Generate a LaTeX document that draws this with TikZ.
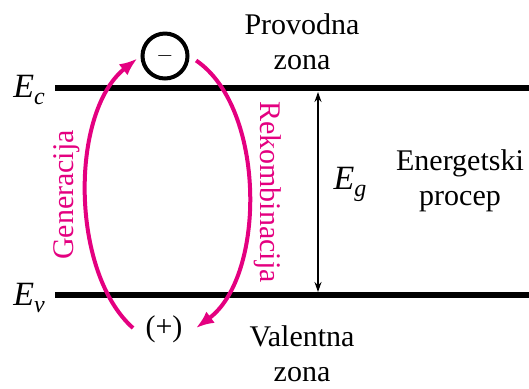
\documentclass[tikz,border=0pt]{standalone}
\usepackage{fontspec}
\setmainfont{Liberation Serif}
\usetikzlibrary{arrows.meta}
\newcommand{\EL}[1]{\textit{E}\raisebox{-0.45ex}{\fontsize{12}{12}\selectfont\textit{#1}}}

\begin{document}
\begin{tikzpicture}[x=0.5pt,y=-0.5pt,>=Latex,
  font=\fontsize{15}{17.5}\selectfont]

% colors
\definecolor{cGen}{RGB}{228,0,128}

\useasboundingbox (0,0) rectangle (529,388);

% band edges
\coordinate (ecL) at (55,88);
\coordinate (ecR) at (529,88);
\coordinate (evL) at (55,295);
\coordinate (evR) at (529,295);
\draw[line width=3pt] (ecL) -- (ecR);
\draw[line width=3pt] (evL) -- (evR);
\node (ec) at (29,90) {\fontsize{17}{17}\selectfont\EL{c}};
\node (ev) at (29,298) {\fontsize{17}{17}\selectfont\EL{v}};

% electron and hole
\node[circle,draw,line width=2pt,minimum size=22.5pt,inner sep=0pt]
  (el) at (165,56) {\fontsize{11}{11}\selectfont$-$};
\node (hole) at (164,329) {(+)};

% generation / recombination
\draw[->,cGen,line width=2pt,shorten >=2pt,
  arrows={-Latex[length=9pt,width=7pt]}]
  (133,328) .. controls (70,272) and (70,112) .. (el.west);
\draw[->,cGen,line width=2pt,shorten <=4pt,
  arrows={-Latex[length=9pt,width=7pt]}]
  (el.east) .. controls (266,108) and (266,276) .. (196,328);
\node[rotate=90,text=cGen] (gen) at (67,195) {Generacija};
\node[rotate=-90,text=cGen] (rek) at (268,192) {Rekombinacija};

% gap
\coordinate (gT) at (318,92);
\coordinate (gB) at (318,292);
\draw[{Stealth[length=5pt,width=3.5pt]}-{Stealth[length=5pt,width=3.5pt]},
  line width=0.6pt] (gT) -- (gB);
\node (eg) at (350,184) {\fontsize{17}{17}\selectfont\EL{g}};
\node[align=center] (gap) at (460,181) {Energetski\\procep};

% band names
\node[align=center] (cb) at (302,42) {Provodna\\zona};
\node[align=center] (vb) at (302,354) {Valentna\\zona};

\end{tikzpicture}
\end{document}
